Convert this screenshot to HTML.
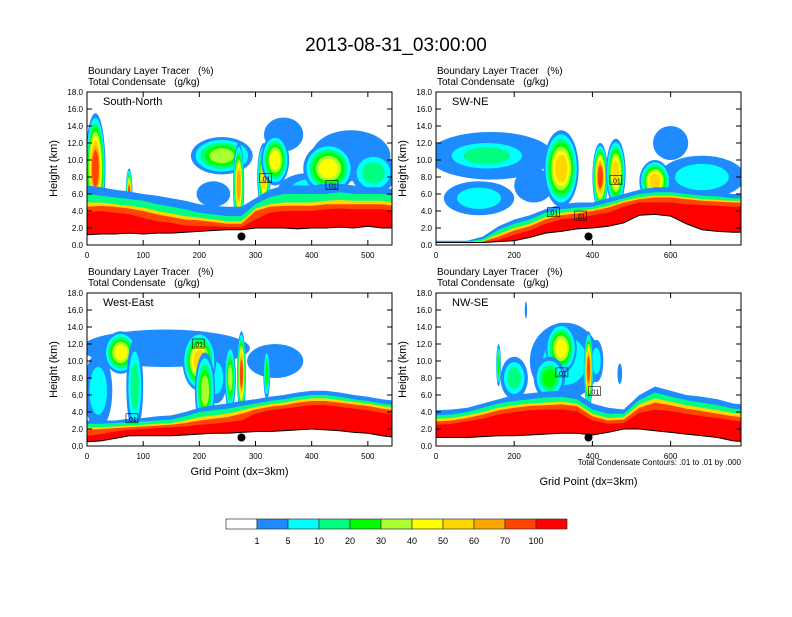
<!DOCTYPE html>
<html><head><meta charset="utf-8"><style>
body{margin:0;background:#fff;width:792px;height:612px;overflow:hidden}
svg{font-family:"Liberation Sans",sans-serif}
</style></head><body>
<svg id="s" width="792" height="612" viewBox="0 0 792 612" xmlns="http://www.w3.org/2000/svg">
<text x="396" y="51" font-size="19" text-anchor="middle">2013-08-31_03:00:00</text>
<g id="cb"></g>
</svg>
<script>
// ---- data ----
const colors=['#ffffff','#1e8cff','#00ffff','#00ff80','#00ff00','#aaff33','#ffff00','#ffd700','#ffa500','#ff4500','#ff0000'];
const cbLabels=['1','5','10','20','30','40','50','60','70','100'];
const bandColors=['#1e8cff','#00ff80','#ffd700','#ff4500','#ff0000'];
// Panel 1 South-North
const snX=[0,25,50,75,100,125,150,175,200,225,250,275,300,325,350,375,400,425,450,475,500,525,550];
const snTerr=[1.2,1.3,1.3,1.4,1.3,1.4,1.4,1.5,1.6,1.7,1.8,1.8,2.0,2.0,2.0,1.9,2.0,2.0,2.1,2.0,2.2,2.0,2.0];
const snBlue=[7.0,6.8,6.5,6.3,6.0,5.8,5.5,5.2,4.8,4.6,4.5,4.5,5.5,6.5,7.0,7.0,7.0,7.2,7.2,7.0,6.8,6.8,6.5];
const snGreen=[6.0,5.8,5.6,5.4,5.2,4.8,4.5,4.2,3.8,3.6,3.4,3.4,4.8,5.6,6.0,6.0,6.0,6.0,6.2,6.0,6.0,6.0,5.8];
const snYellow=[5.0,5.0,4.8,4.6,4.4,4.0,3.7,3.4,3.2,3.0,2.8,2.8,4.3,4.8,5.0,5.0,5.0,5.2,5.3,5.2,5.2,5.2,5.0];
const snOrange=[4.5,4.6,4.5,4.3,4.0,3.6,3.3,3.0,2.9,2.7,2.5,2.5,4.0,4.5,4.6,4.6,4.6,4.8,4.8,4.8,4.8,4.8,4.6];
const snRed=[3.8,4.0,3.8,3.6,3.2,2.8,2.6,2.3,2.2,2.2,2.1,2.1,3.0,3.8,4.0,4.0,4.0,4.2,4.3,4.2,4.2,4.2,4.0];
const snBlobs=[[225,6,30,1.5,1],[400,6.5,60,2,2],[470,10.5,70,3,1],[350,13,35,2,1],[15,9,18,6.5,9],[75,6,6,3,9],[240,10.5,55,2.2,5],[270,7,10,5,8],[315,8,12,4,7],[335,10,25,3,6],[430,9,45,3,6],[510,8.5,40,2.5,3]];
// Panel 2 SW-NE
const swX=[0,40,80,120,160,200,240,280,320,360,400,440,480,520,560,600,640,680,720,760,800];
const swTerr=[0.3,0.3,0.3,0.3,0.4,0.5,0.9,1.4,1.6,1.9,2.0,2.2,2.6,3.5,3.6,3.4,2.5,1.8,1.6,1.5,1.5];
const swBlue=[0.5,0.5,0.5,1.0,2.2,3.0,3.5,4.2,4.8,5.0,5.0,5.5,6.0,6.5,6.8,6.8,6.5,6.3,6.2,6.0,6.0];
const swGreen=[0.4,0.4,0.4,0.7,1.8,2.5,3.0,3.8,4.2,4.4,4.5,5.0,5.5,6.0,6.2,6.2,6.0,5.8,5.7,5.5,5.5];
const swYellow=[0.3,0.3,0.3,0.5,1.3,2.0,2.5,3.3,3.8,4.0,4.2,4.6,5.2,5.6,5.8,5.8,5.6,5.4,5.3,5.2,5.2];
const swOrange=[0.3,0.3,0.3,0.4,1.0,1.7,2.2,3.0,3.5,3.7,4.0,4.4,5.0,5.4,5.6,5.6,5.4,5.2,5.1,5.0,5.0];
const swRed=[0.3,0.3,0.3,0.3,0.6,1.2,1.7,2.5,3.0,3.2,3.5,3.8,4.5,5.0,5.0,5.0,4.8,4.7,4.6,4.5,4.5];
const swBlobs=[[250,7,50,2,1],[680,8,110,2.5,2],[600,12,45,2,1],[140,10.5,160,2.8,2],[130,10.5,120,2,3],[110,5.5,90,2,2],[320,9,45,4.5,7],[420,8,20,4,9],[460,8.5,25,4,7],[560,7.5,40,2.5,7]];
// Panel 3 West-East
const weX=[0,25,50,75,100,125,150,175,200,225,250,275,300,325,350,375,400,425,450,475,500,525,550];
const weTerr=[0.5,0.6,0.9,1.2,1.2,1.2,1.2,1.3,1.4,1.5,1.5,1.6,1.7,1.7,1.8,1.9,2.0,1.9,1.8,1.6,1.5,1.2,1.0];
const weBlue=[3.0,3.0,3.0,3.2,3.3,3.5,3.6,4.0,4.5,4.8,5.0,5.3,5.5,5.8,6.0,6.3,6.5,6.5,6.3,6.0,5.8,5.5,5.3];
const weGreen=[2.6,2.6,2.7,2.8,2.9,3.0,3.1,3.5,4.0,4.2,4.4,4.7,5.0,5.3,5.5,5.8,6.0,6.0,5.8,5.5,5.3,5.0,4.8];
const weYellow=[2.2,2.2,2.3,2.4,2.5,2.6,2.7,3.0,3.4,3.6,3.8,4.2,4.6,4.9,5.1,5.4,5.6,5.6,5.4,5.2,5.0,4.7,4.5];
const weOrange=[1.9,2.0,2.1,2.2,2.3,2.4,2.5,2.7,3.0,3.2,3.4,3.8,4.3,4.6,4.8,5.1,5.3,5.3,5.1,4.9,4.7,4.4,4.2];
const weRed=[1.2,1.4,1.7,1.9,2.0,2.1,2.2,2.3,2.5,2.6,2.8,3.0,3.8,4.2,4.4,4.6,4.8,4.8,4.6,4.4,4.2,3.9,3.7];
const weBlobs=[[140,11.5,150,2.2,1],[230,8,20,3,2],[335,10,50,2,1],[20,6.5,25,4.5,2],[60,11,30,2.5,6],[85,7,15,5.5,3],[200,10,30,3.5,7],[210,6.5,18,4.5,5],[255,8,10,4,5],[275,8.5,8,5,9],[320,8.5,6,3,4]];
// Panel 4 NW-SE
const nwX=[0,40,80,120,160,200,240,280,320,360,400,440,480,520,560,600,640,680,720,760,800];
const nwTerr=[1.0,1.0,1.0,1.1,1.2,1.2,1.3,1.4,1.5,1.5,1.3,1.6,2.0,2.0,1.8,1.6,1.4,1.2,1.0,0.6,0.5];
const nwBlue=[4.2,4.3,4.5,5.0,5.5,6.0,6.2,6.4,6.5,6.2,5.0,4.5,4.3,6.0,7.0,6.5,6.0,5.8,5.5,5.0,4.8];
const nwGreen=[3.6,3.7,4.0,4.5,5.0,5.3,5.5,5.7,5.8,5.5,4.3,3.8,3.8,5.4,6.3,5.8,5.4,5.1,4.8,4.4,4.2];
const nwYellow=[3.2,3.3,3.6,4.0,4.5,4.8,5.0,5.1,5.2,5.0,3.8,3.3,3.4,4.9,5.6,5.2,4.8,4.5,4.2,3.9,3.7];
const nwOrange=[2.9,3.0,3.3,3.7,4.2,4.5,4.7,4.8,4.9,4.7,3.5,3.0,3.1,4.5,5.1,4.8,4.4,4.1,3.8,3.5,3.3];
const nwRed=[2.5,2.6,2.9,3.2,3.7,4.0,4.2,4.3,4.3,4.1,3.0,2.6,2.7,3.9,4.3,4.1,3.8,3.5,3.3,3.0,2.8];
const nwBlobs=[[330,10,90,4.5,2],[410,10,18,2.5,2],[470,8.5,6,1.2,1],[230,16,3,1,1],[320,11.5,40,3,6],[290,8,40,2.5,4],[200,8,35,2.5,3],[390,9,12,4.5,9],[160,9.5,6,2.5,4]];
const panels=[
 {name:'south-north',label:'South-North',x:87,y:92,xmax:543,ticks:[0,100,200,300,400,500],px:snX,terr:snTerr,bands:[snBlue,snGreen,snYellow,snOrange,snRed],blobs:snBlobs,dot:275,xlab:false,notes:[[318,7.8],[436,7]]},
 {name:'sw-ne',label:'SW-NE',x:436,y:92,xmax:780,ticks:[0,200,400,600],px:swX,terr:swTerr,bands:[swBlue,swGreen,swYellow,swOrange,swRed],blobs:swBlobs,dot:390,xlab:false,notes:[[300,3.8],[370,3.4],[460,7.6]]},
 {name:'west-east',label:'West-East',x:87,y:293,xmax:543,ticks:[0,100,200,300,400,500],px:weX,terr:weTerr,bands:[weBlue,weGreen,weYellow,weOrange,weRed],blobs:weBlobs,dot:275,xlab:true,notes:[[80,3.2],[198,12]]},
 {name:'nw-se',label:'NW-SE',x:436,y:293,xmax:780,ticks:[0,200,400,600],px:nwX,terr:nwTerr,bands:[nwBlue,nwGreen,nwYellow,nwOrange,nwRed],blobs:nwBlobs,dot:390,xlab:true,notes:[[322,8.6],[405,6.4]]}
];
const NS='http://www.w3.org/2000/svg';
const svg=document.getElementById('s');
function mk(tag,attrs,parent){const e=document.createElementNS(NS,tag);for(const k in attrs)e.setAttribute(k,attrs[k]);(parent||svg).appendChild(e);return e;}
const W=305,H=153;
panels.forEach((p,pi)=>{
 const sx=v=>p.x+v/p.xmax*W, sy=z=>p.y+H-z/18*H;
 const g=mk('g',{});
 
 
 const cid='clip'+pi;
 const cp=mk('clipPath',{id:cid},g);mk('rect',{x:p.x,y:p.y,width:W,height:H},cp);
 const plot=mk('g',{'clip-path':'url(#'+cid+')'},g);
 p.blobs.forEach(b=>{
  for(let l=1;l<=b[4];l++){
   const f=1-(l-1)/b[4]*0.75;
   const e=mk('ellipse',{cx:sx(b[0]),cy:sy(b[1]),rx:b[2]/p.xmax*W*f,ry:b[3]/18*H*f,fill:colors[l]},plot);
   
   
  }
 });
 p.bands.forEach((top,bi)=>{
  let d='M'+p.px.map((v,i)=>sx(v)+','+sy(top[i])).join(' L');
  for(let i=p.px.length-1;i>=0;i--)d+=' L'+sx(p.px[i])+','+sy(p.terr[i]);
  const path=mk('path',{d:d+'Z',fill:bandColors[bi]},plot);
  
  
 });
 let td='M'+p.px.map((v,i)=>sx(v)+','+sy(p.terr[i])).join(' L');
 let tf=td+' L'+sx(p.px[p.px.length-1])+','+(p.y+H)+' L'+sx(0)+','+(p.y+H)+'Z';
 mk('path',{d:tf,fill:'#fff'},plot);
 const tline=mk('path',{d:td,fill:'none',stroke:'#000','stroke-width':1},plot);
 
 
 p.notes.forEach(n=>{
  mk('rect',{x:sx(n[0])-6,y:sy(n[1])-5,width:12,height:9,fill:'none',stroke:'#000','stroke-width':0.6},plot);
  const t=mk('text',{x:sx(n[0]),y:sy(n[1])+3,'font-size':7,'text-anchor':'middle'},plot);t.textContent='.01';
  
  
 });
 const dot=mk('circle',{cx:sx(p.dot),cy:sy(1.0),r:4,fill:'#000'},g);
 
 
 const fr=mk('rect',{x:p.x,y:p.y,width:W,height:H,fill:'none',stroke:'#000','stroke-width':1},g);
 
 
 for(let z=0;z<=18;z+=2){
  const y=sy(z);
  mk('line',{x1:p.x,x2:p.x+5,y1:y,y2:y,stroke:'#000'},g);
  mk('line',{x1:p.x+W,x2:p.x+W-5,y1:y,y2:y,stroke:'#000'},g);
  const t=mk('text',{x:p.x-4,y:y+3,'font-size':8,'text-anchor':'end'},g);t.textContent=z.toFixed(1);
  
  
 }
 p.ticks.forEach(v=>{
  const x=sx(v);
  mk('line',{x1:x,x2:x,y1:p.y+H,y2:p.y+H-5,stroke:'#000'},g);
  mk('line',{x1:x,x2:x,y1:p.y,y2:p.y+5,stroke:'#000'},g);
  const t=mk('text',{x:x,y:p.y+H+13,'font-size':8,'text-anchor':'middle'},g);t.textContent=v;
  
  
 });
 const yl=mk('text',{x:0,y:0,'font-size':11,'text-anchor':'middle',transform:`translate(${p.x-30},${p.y+H/2}) rotate(-90)`},g);yl.textContent='Height (km)';
 
 
 const l1=mk('text',{x:p.x+1,y:p.y-18,'font-size':10},g);l1.textContent='Boundary Layer Tracer\u00a0\u00a0\u00a0(%)';
 
 
 const l2=mk('text',{x:p.x+1,y:p.y-7,'font-size':10},g);l2.textContent='Total Condensate\u00a0\u00a0\u00a0(g/kg)';
 
 
 const pl=mk('text',{x:p.x+16,y:p.y+13,'font-size':11},g);pl.textContent=p.label;
 
 
 if(p.xlab){
  const xl=mk('text',{x:p.x+W/2,y:p.y+H+(pi==3?39:29),'font-size':11,'text-anchor':'middle'},g);xl.textContent='Grid Point (dx=3km)';
  
  
 }
 if(pi==3){
  const n=mk('text',{x:p.x+W,y:p.y+H+19,'font-size':8,'text-anchor':'end'},g);n.textContent='Total Condensate Contours: .01 to .01 by .000';
  
  
 }
});
const cb=document.getElementById('cb');
colors.forEach((c,i)=>{
 const r=mk('rect',{x:226+i*31,y:519,width:31,height:10,fill:c,stroke:'#333','stroke-width':0.7},cb);
 
 
});
cbLabels.forEach((l,i)=>{
 const t=mk('text',{x:226+(i+1)*31,y:544,'font-size':9,'text-anchor':'middle'},cb);t.textContent=l;
 
 
});
</script>
</body></html>
